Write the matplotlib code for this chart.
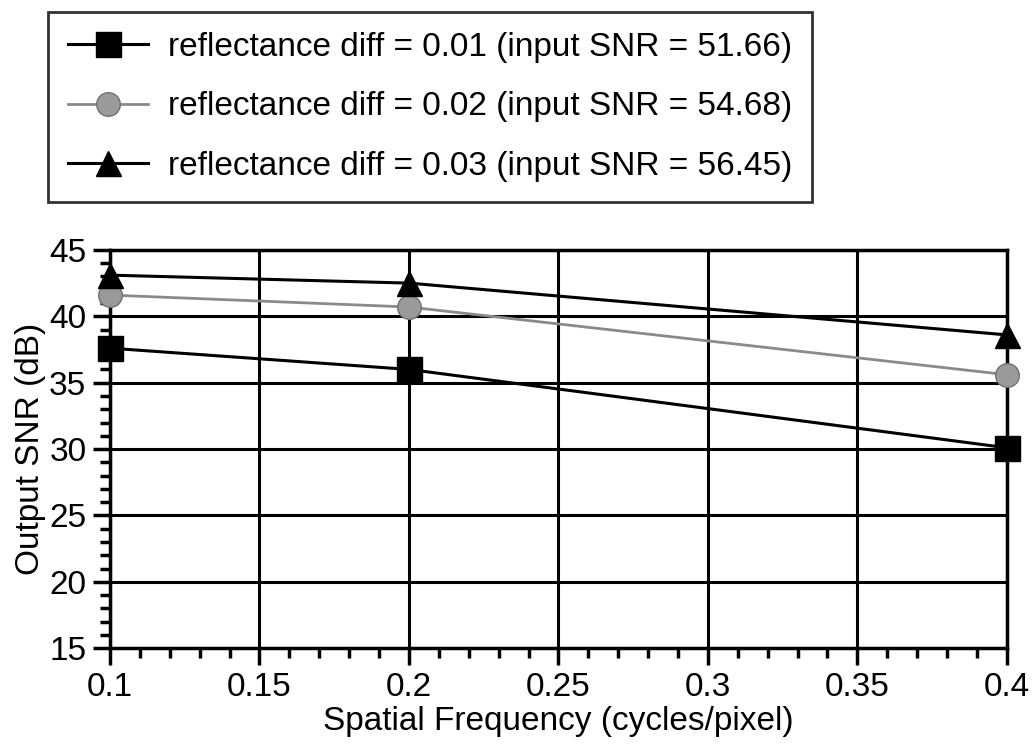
import matplotlib
matplotlib.use("Agg")
import matplotlib.pyplot as plt
from matplotlib.ticker import MultipleLocator

plt.rcParams['font.family'] = ['Liberation Sans', 'DejaVu Sans']

# Data
freq = [0.1, 0.2, 0.4]
snr_001 = [37.6, 36.0, 30.1]
snr_002 = [41.6, 40.7, 35.6]
snr_003 = [43.1, 42.5, 38.6]
labels = ["reflectance diff = 0.01 (input SNR = 51.66)",
          "reflectance diff = 0.02 (input SNR = 54.68)",
          "reflectance diff = 0.03 (input SNR = 56.45)"]
xticks = [0.1, 0.15, 0.2, 0.25, 0.3, 0.35, 0.4]
xticklabels = ["0.1", "0.15", "0.2", "0.25", "0.3", "0.35", "0.4"]

fig = plt.figure(figsize=(10.32, 7.46), dpi=100)
ax = fig.add_axes([0.1066, 0.131, 0.869, 0.534])

ax.plot(freq, snr_001, color='black', lw=2.2, marker='s', ms=18,
        mfc='black', mec='black', label=labels[0], clip_on=False, zorder=5)
ax.plot(freq, snr_002, color='#8a8a8a', lw=2, marker='o', ms=17,
        mfc='#9a9a9a', mec='#707070', label=labels[1], clip_on=False, zorder=5)
ax.plot(freq, snr_003, color='black', lw=2.2, marker='^', ms=18,
        mfc='black', mec='black', label=labels[2], clip_on=False, zorder=5)

ax.set_xlim(0.1, 0.4)
ax.set_ylim(15, 45)
ax.set_xticks(xticks)
ax.set_xticklabels(xticklabels)
ax.xaxis.set_minor_locator(MultipleLocator(0.01))
ax.yaxis.set_major_locator(MultipleLocator(5))
ax.yaxis.set_minor_locator(MultipleLocator(1))
ax.tick_params(which='major', direction='out', length=12, width=2.5,
               labelsize=24, pad=5)
ax.tick_params(which='minor', direction='out', length=7, width=2.5)
ax.grid(True, which='major', color='black', lw=2.2)
for s in ax.spines.values():
    s.set_linewidth(2.5)

ax.set_xlabel("Spatial Frequency (cycles/pixel)", fontsize=24, labelpad=2)
ax.set_ylabel("Output SNR (dB)", fontsize=24, labelpad=2)

leg = fig.legend(loc='upper left', bbox_to_anchor=(0.0465, 0.984),
                 fontsize=24, frameon=True, fancybox=False, edgecolor='black',
                 handlelength=2.4, borderpad=0.6, labelspacing=0.85,
                 handletextpad=0.6, borderaxespad=0)
leg.get_frame().set_linewidth(2)

fig.savefig("out.png", dpi=100)
